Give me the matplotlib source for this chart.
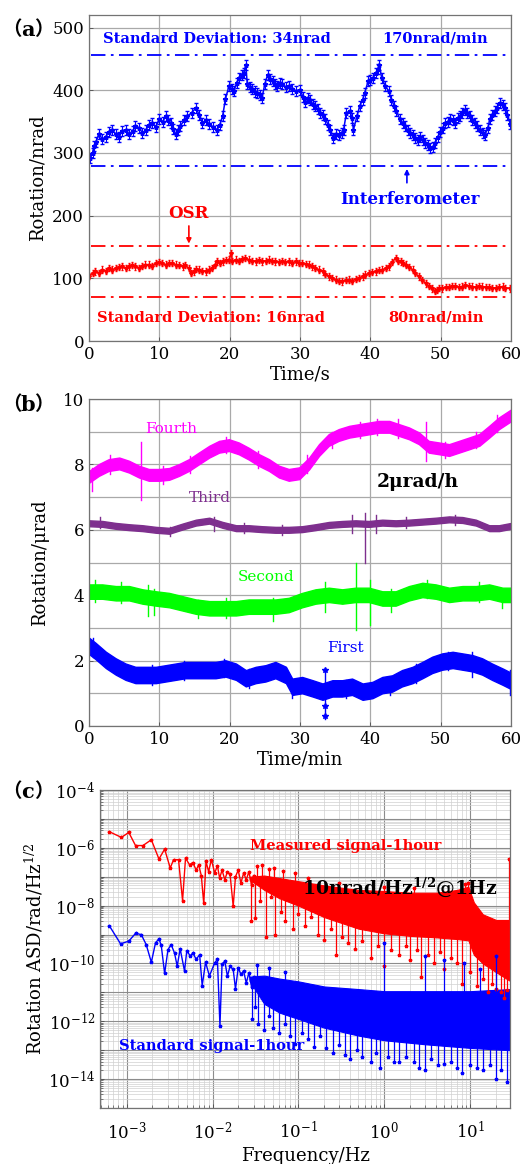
import numpy as np
import matplotlib
matplotlib.use("Agg")
import matplotlib.pyplot as plt
from matplotlib.ticker import FuncFormatter, FixedLocator, LogLocator, NullFormatter

plt.rcParams['font.family'] = ['DejaVu Serif', 'Noto Sans CJK SC']
plt.rcParams['mathtext.fontset'] = 'dejavuserif'

# ---------------- (a) interferometer vs OSR, 1 minute ----------------
ifm_t = [0.2, 0.5, 0.7, 1.0, 1.4, 1.9, 2.4, 2.8, 3.3, 3.8, 4.3, 4.7, 5.2, 5.7, 6.2, 6.6, 7.1, 7.6, 8.1, 8.5,
         9.0, 9.5, 10.0, 10.5, 10.9, 11.3, 11.6, 12.0, 12.3, 12.7, 13.0, 13.5, 14.0, 14.6, 15.2, 15.7, 16.1,
         16.6, 17.1, 17.6, 18.2, 18.6, 19.0, 19.4, 19.9, 20.3, 20.6, 21.0, 21.3, 21.7, 22.0, 22.3, 22.5, 22.9,
         23.2, 23.6, 23.9, 24.3, 24.6, 25.0, 25.4, 25.8, 26.1, 26.5, 26.8, 27.2, 27.5, 28.0, 28.4, 28.9, 29.4,
         30.0, 30.4, 30.7, 31.1, 31.4, 31.8, 32.1, 32.5, 32.8, 33.2, 33.6, 34.0, 34.3, 34.7, 35.1, 35.5, 35.9,
         36.2, 36.6, 37.1, 37.4, 37.6, 38.1, 38.5, 38.9, 39.2, 39.7, 40.0, 40.4, 40.8, 41.1, 41.3, 41.6, 42.1,
         42.6, 43.0, 43.4, 43.7, 44.2, 44.6, 44.9, 45.3, 45.6, 46.0, 46.4, 46.8, 47.1, 47.5, 47.8, 48.2, 48.5,
         48.9, 49.2, 49.6, 49.9, 50.3, 50.6, 51.0, 51.3, 51.7, 52.0, 52.4, 52.7, 53.1, 53.5, 53.8, 54.2, 54.5,
         54.9, 55.2, 55.6, 56.0, 56.3, 56.7, 57.0, 57.3, 57.7, 58.0, 58.4, 58.8, 59.1, 59.5, 59.9]
ifm_v = [292, 300, 311, 318, 330, 322, 326, 334, 337, 330, 326, 335, 337, 330, 335, 343, 340, 332, 337, 345,
         348, 342, 354, 350, 359, 352, 348, 338, 330, 336, 343, 352, 359, 364, 372, 360, 348,
         352, 346, 342, 337, 345, 359, 386, 407, 402, 399, 412, 420, 425, 428, 440, 410, 405,
         402, 398, 396, 392, 388, 410, 425, 418, 415, 410, 407, 412, 410, 405, 407, 402, 399,
         401, 390, 382, 388, 385, 378, 375, 370, 364, 360, 354, 345, 337, 324, 330, 329, 332,
         337, 364, 367, 355, 337, 359, 375, 385, 396, 415, 417, 420, 428, 434, 440, 420, 407,
         399, 385, 375, 367, 354, 348, 343, 336, 332, 328, 324, 320, 326, 320, 316, 312, 308,
         310, 316, 325, 334, 340, 348, 350, 354, 352, 348, 355, 359, 364, 369, 364, 359, 352,
         348, 343, 337, 332, 329, 340, 354, 360, 367, 372, 380, 376, 372, 360, 346]
ifm_err = 8
ifm_bounds = [456, 279]

osr_t = [0.0, 0.5, 0.9, 1.4, 1.9, 2.4, 2.8, 3.3, 3.8, 4.2, 4.7, 5.2, 5.7, 6.1, 6.6, 7.1, 7.6, 8.0, 8.5, 9.0,
         9.5, 9.9, 10.4, 10.9, 11.4, 11.8, 12.3, 12.8, 13.3, 13.7, 14.2, 14.5, 14.9, 15.2, 15.6, 16.1, 16.6,
         17.0, 17.5, 17.9, 18.2, 18.6, 19.0, 19.5, 19.9, 20.2, 20.4, 20.9, 21.3, 21.8, 22.2, 22.7, 23.2, 23.7,
         24.1, 24.6, 25.1, 25.6, 26.0, 26.5, 27.0, 27.5, 27.9, 28.4, 28.9, 29.4, 29.8, 30.3, 30.8, 31.3, 31.7,
         32.2, 32.7, 33.2, 33.6, 34.1, 34.6, 35.1, 35.5, 36.0, 36.5, 37.0, 37.4, 37.9, 38.4, 38.9, 39.3, 39.8,
         40.3, 40.8, 41.2, 41.7, 42.2, 42.7, 43.1, 43.6, 43.9, 44.3, 44.6, 45.0, 45.5, 46.0, 46.4, 46.9, 47.4,
         47.9, 48.3, 48.8, 49.2, 49.5, 49.8, 50.2, 50.7, 51.2, 51.6, 52.1, 52.6, 53.1, 53.5, 54.0, 54.5, 55.0,
         55.4, 55.9, 56.4, 56.9, 57.3, 57.8, 58.3, 58.8, 59.2, 59.8]
osr_v = [104, 108, 111, 109, 114, 112, 116, 114, 116, 118, 119, 116, 119, 121, 119, 117, 120, 122, 122, 120,
         124, 126, 124, 122, 124, 125, 122, 121, 119, 121, 116, 108, 111, 115, 114, 112, 111,
         114, 116, 122, 127, 125, 127, 129, 130, 140, 128, 130, 128, 131, 133, 130, 128, 127,
         129, 127, 128, 130, 128, 127, 126, 128, 126, 127, 125, 127, 125, 124, 123, 122, 119,
         116, 114, 111, 107, 103, 100, 98, 96, 95, 97, 98, 96, 99, 101, 103, 106, 108,
         110, 111, 113, 114, 116, 119, 126, 132, 128, 127, 124, 122, 118, 114, 108, 103, 97,
         92, 88, 84, 80, 82, 85, 84, 86, 86, 88, 88, 86, 87, 89, 88, 87, 86,
         88, 87, 86, 86, 85, 85, 86, 87, 85, 84]
osr_err = 5
osr_bounds = [151, 71]

# ---------------- (b) four 1-hour runs ----------------
fourth_t = [0, 1.4, 2.8, 4.3, 5.7, 7.1, 8.5, 10.0, 11.4, 12.8, 14.2, 15.6, 17.1, 18.5, 19.9, 21.3, 22.7, 24.2,
            25.6, 27.0, 28.4, 29.9, 31.3, 32.7, 34.1, 35.5, 37.0, 38.4, 39.8, 41.2, 42.7, 44.1, 45.5, 46.9,
            48.3, 49.8, 51.2, 52.6, 54.0, 55.5, 56.9, 58.3, 60]
fourth_v = [7.62, 7.83, 7.98, 8.03, 7.93, 7.78, 7.68, 7.68, 7.71, 7.83, 7.98, 8.18, 8.39, 8.54, 8.59, 8.49,
            8.33, 8.13, 7.98, 7.78, 7.68, 7.73, 8.03, 8.44, 8.75, 8.90, 9.00, 9.05, 9.10, 9.15, 9.15, 9.05,
            8.95, 8.80, 8.54, 8.49, 8.44, 8.54, 8.64, 8.75, 9.00, 9.26, 9.50]
fourth_half = 0.18
fourth_spikes = [(7.4, 6.9, 8.7), (0.4, 7.2, 7.9), (47.9, 8.1, 9.3), (44.0, 8.8, 9.4), (50.6, 8.2, 8.7),
                 (3.0, 7.7, 8.3), (10.5, 7.4, 7.95), (14.3, 7.75, 8.25), (19.5, 8.35, 8.85), (24.0, 7.9, 8.4),
                 (31.0, 7.75, 8.3), (34.5, 8.5, 9.0), (38.5, 8.8, 9.3), (41.0, 8.9, 9.4), (55.0, 8.5, 9.0),
                 (58.0, 9.0, 9.5)]

third_t = [0, 1.9, 3.8, 5.7, 7.6, 9.5, 11.4, 13.3, 15.2, 17.1, 19.0, 20.9, 22.7, 24.6, 26.5, 28.4, 30.3, 32.2,
           34.1, 36.0, 37.9, 39.8, 41.7, 43.6, 45.5, 47.4, 49.3, 51.2, 53.1, 55.0, 56.9, 58.3, 60]
third_v = [6.20, 6.18, 6.12, 6.08, 6.05, 6.00, 5.97, 6.10, 6.22, 6.28, 6.15, 6.05, 6.05, 6.02, 6.00, 6.00,
           6.02, 6.08, 6.15, 6.18, 6.20, 6.18, 6.22, 6.20, 6.22, 6.25, 6.28, 6.32, 6.30, 6.22, 6.05, 6.05,
           6.12]
third_half = 0.09
third_spikes = [(39.2, 4.98, 6.5), (37.4, 5.9, 6.45), (40.8, 5.9, 6.45), (17.8, 5.95, 6.38), (11.5, 5.8, 6.1),
                (1.5, 6.05, 6.4), (22.0, 5.9, 6.2), (27.5, 5.85, 6.15), (45.0, 6.05, 6.4), (52.0, 6.15, 6.45)]

second_t = [0, 1.9, 3.8, 5.7, 7.6, 9.5, 11.4, 13.3, 15.2, 17.1, 19.0, 20.9, 22.7, 24.6, 26.5, 28.4, 30.3, 32.2,
            34.1, 36.0, 37.9, 39.8, 41.7, 43.6, 45.5, 47.4, 49.3, 51.2, 53.1, 55.0, 56.9, 58.8, 60]
second_v = [4.11, 4.11, 4.06, 4.06, 3.96, 3.90, 3.85, 3.75, 3.65, 3.60, 3.60, 3.60, 3.65, 3.65, 3.65, 3.70,
            3.85, 3.96, 4.01, 3.96, 4.01, 4.01, 3.90, 3.90, 4.06, 4.16, 4.11, 4.01, 4.06, 4.06, 4.11, 4.01,
            4.01]
second_half = 0.22
second_spikes = [(37.9, 2.94, 5.0), (40.0, 3.09, 4.46), (33.6, 3.5, 4.41), (8.4, 3.35, 4.31),
                 (26.1, 3.2, 3.9), (9.3, 3.4, 4.2), (43.0, 3.5, 4.2), (0.8, 3.8, 4.45), (4.5, 3.75, 4.4),
                 (15.5, 3.3, 3.85), (19.5, 3.3, 3.9), (48.0, 3.9, 4.45), (55.5, 3.8, 4.4), (58.7, 3.6, 4.2)]

first_t = [0, 0.9, 2.4, 3.8, 5.2, 6.6, 8.1, 9.5, 10.9, 12.3, 13.7, 15.2, 16.6, 18.0, 19.4, 20.9, 22.3, 23.7,
           25.1, 26.5, 28.0, 28.9, 30.3, 31.8, 33.2, 34.6, 36.0, 37.4, 38.9, 40.3, 41.7, 43.1, 44.5, 46.0,
           47.4, 48.8, 50.2, 51.7, 53.1, 54.5, 55.9, 57.3, 58.8, 60]
first_v = [2.45, 2.30, 2.02, 1.82, 1.66, 1.56, 1.56, 1.56, 1.61, 1.66, 1.71, 1.71, 1.71, 1.71, 1.76, 1.66,
           1.46, 1.56, 1.61, 1.71, 1.56, 1.20, 1.25, 1.15, 1.05, 1.15, 1.15, 1.20, 1.05, 1.10, 1.25, 1.30,
           1.46, 1.56, 1.71, 1.87, 1.97, 2.02, 1.97, 1.92, 1.82, 1.66, 1.51, 1.38]
first_half = 0.25
first_spikes = [(33.5, 0.20, 1.75), (28.9, 0.85, 1.4), (54.5, 1.5, 2.25), (59.9, 0.95, 1.7),
                (19.2, 1.5, 2.05), (42.8, 0.95, 1.5), (0.5, 2.1, 2.7), (9.0, 1.25, 1.85), (13.5, 1.4, 2.0),
                (22.8, 1.15, 1.75), (36.5, 0.85, 1.4), (46.5, 1.3, 1.9), (51.0, 1.7, 2.25)]

# ---------------- (c) amplitude spectral density ----------------
meas_f = [6.3e-4, 8.7e-4, 1.06e-3, 1.27e-3, 1.55e-3, 1.94e-3, 2.38e-3, 2.77e-3, 3.22e-3, 3.52e-3, 4.02e-3,
          4.48e-3, 4.85e-3, 5.4e-3, 5.9e-3, 6.45e-3, 6.9e-3, 7.4e-3, 7.9e-3, 8.4e-3, 9.0e-3, 0.0097,
          0.0106, 0.0114, 0.0121, 0.0129, 0.0139, 0.0149, 0.016, 0.0174, 0.0185, 0.0199, 0.0214, 0.023,
          0.0247, 0.0265, 0.0285, 0.03]
meas_a = [3.6e-6, 2.3e-6, 3.4e-6, 1.2e-6, 1.2e-6, 1.9e-6, 4.1e-7, 9.0e-7, 2.0e-7, 3.9e-7, 3.9e-7,
          1.5e-8, 4.4e-7, 2.6e-7, 3.1e-7, 1.7e-7, 2.6e-7, 1.1e-7, 1.2e-8, 3.4e-7, 1.5e-7, 3.9e-7,
          1.35e-7, 2.4e-7, 8.9e-8, 1.7e-7, 7.9e-8, 1.5e-7, 1.2e-7, 9.5e-9, 1.0e-7, 1.7e-7, 6.0e-8, 1.35e-7,
          7.9e-8, 1.5e-7, 5.0e-8, 1.1e-7]
meas_env_f = [0.027, 0.04, 0.06, 0.1, 0.2, 0.5, 1, 2, 4, 7, 9.5, 11, 14, 20, 29]
meas_env_hi = [1.0e-7, 1.1e-7, 9.0e-8, 7.0e-8, 5.0e-8, 3.5e-8, 3.2e-8, 2.8e-8, 2.8e-8, 3.5e-8,
               4.5e-8, 1.3e-8, 5.0e-9, 3.2e-9, 3.2e-9]
meas_env_lo = [8.0e-8, 3.5e-8, 1.8e-8, 1.0e-8, 4.0e-9, 1.6e-9, 1.1e-9, 9.0e-10, 8.0e-10, 7.0e-10,
               6.3e-10, 2.0e-10, 1.0e-10, 5.0e-11, 2.5e-11]
meas_dips = [(0.028, 3.0e-9), (0.031, 3.7e-9), (0.036, 1.5e-8), (0.042, 8.0e-10), (0.048, 2.0e-8),
             (0.053, 1.0e-9), (0.062, 6.0e-9), (0.07, 3.0e-9), (0.086, 1.5e-9), (0.1, 5.0e-9),
             (0.12, 2.0e-9), (0.14, 4.0e-9), (0.17, 1.0e-9), (0.2, 6.3e-10), (0.24, 1.5e-9),
             (0.274, 2.0e-10), (0.32, 8.0e-10), (0.38, 5.0e-10), (0.45, 3.2e-10), (0.55, 6.0e-10),
             (0.7, 1.6e-10), (0.85, 4.0e-10), (1.0, 8.0e-11), (1.2, 3.0e-10), (1.5, 2.0e-10),
             (1.8, 4.0e-10), (2.0, 1.3e-10), (2.4, 3.0e-10), (2.7, 3.5e-11), (3.2, 2.0e-10),
             (3.8, 1.0e-10), (4.5, 2.5e-10), (5.0, 6.3e-11), (6.0, 1.5e-10), (7.0, 1.0e-10),
             (8.0, 2.0e-11), (10, 5.0e-11), (12, 1.6e-11), (14, 3.0e-11), (16, 1.0e-11), (18, 2.0e-11),
             (20, 1.3e-11), (23, 1.0e-11), (25, 6.3e-12), (27, 1.2e-11)]
meas_peaks = [(0.033, 2.4e-7), (0.038, 2.5e-7), (0.045, 1.8e-7), (0.052, 2.0e-7), (0.066, 1.6e-7),
              (0.09, 1.3e-7), (0.13, 9.0e-8), (0.3, 6.0e-8), (1.0, 4.5e-8), (2.2, 4.0e-8), (8.7, 5.5e-8),
              (9.3, 6.0e-8), (28.5, 4.0e-7)]

std_f = [6.3e-4, 8.5e-4, 1.06e-3, 1.27e-3, 1.48e-3, 1.69e-3, 1.94e-3, 2.17e-3, 2.38e-3, 2.53e-3, 2.77e-3,
         3.03e-3, 3.3e-3, 3.61e-3, 3.88e-3, 4.2e-3, 4.72e-3, 5.02e-3, 5.5e-3, 5.9e-3, 6.45e-3, 7.08e-3,
         7.58e-3, 8.3e-3, 9.2e-3, 0.0106, 0.0114, 0.0122, 0.0129, 0.0139, 0.0149, 0.016, 0.0174, 0.0185,
         0.0199, 0.0214, 0.023, 0.0247, 0.0265, 0.0285, 0.03]
std_a = [2.0e-9, 4.8e-10, 5.9e-10, 1.1e-9, 1.0e-9, 4.5e-10, 1.1e-10, 5.2e-10, 7.1e-10, 4.2e-10, 4.5e-11,
         3.0e-10, 4.5e-10, 2.3e-10, 8.1e-11, 3.2e-10, 5.5e-11, 2.8e-10, 1.8e-10, 2.3e-10, 1.4e-10,
         2.0e-10, 1.7e-11, 1.1e-10, 3.7e-11, 1.05e-10, 1.4e-10, 6.8e-13, 9.3e-11, 1.2e-10, 3.6e-11,
         8.1e-11, 6.2e-11, 1.3e-11, 7.1e-11, 4.2e-11, 5.5e-11, 2.1e-11, 4.8e-11, 1.5e-11, 3.5e-11]
std_env_f = [0.027, 0.04, 0.06, 0.1, 0.2, 0.5, 1, 3, 10, 29]
std_env_hi = [3.5e-11, 3.8e-11, 3.0e-11, 2.4e-11, 1.6e-11, 1.3e-11, 1.1e-11, 1.1e-11, 1.1e-11, 1.3e-11]
std_env_lo = [2.5e-11, 4.0e-12, 2.0e-12, 1.2e-12, 6.0e-13, 3.2e-13, 2.2e-13, 1.6e-13, 1.2e-13, 1.0e-13]
std_dips = [(0.029, 1.2e-12), (0.031, 3.0e-12), (0.034, 8.0e-13), (0.04, 5.0e-13), (0.046, 1.5e-12),
            (0.05, 6.0e-13), (0.06, 4.0e-13), (0.07, 8.0e-13), (0.08, 3.0e-13), (0.09, 1.6e-13),
            (0.11, 4.0e-13), (0.13, 2.5e-13), (0.15, 1.3e-13), (0.18, 3.0e-13), (0.21, 1.2e-13),
            (0.25, 8.0e-14), (0.3, 1.5e-13), (0.35, 7.0e-14), (0.4, 5.0e-14), (0.48, 1.0e-13),
            (0.55, 6.0e-14), (0.7, 4.0e-14), (0.8, 8.0e-14), (0.9, 2.5e-14), (1.1, 6.0e-14),
            (1.3, 4.0e-14), (1.5, 4.0e-14), (1.8, 6.0e-14), (2.2, 4.0e-14), (2.5, 2.5e-14),
            (3.0, 2.0e-14), (3.5, 5.0e-14), (4.2, 3.0e-14), (5.0, 3.2e-14), (6.0, 4.0e-14),
            (7.0, 2.5e-14), (8.0, 1.6e-14), (10, 3.0e-14), (12, 2.5e-14), (14, 2.0e-14), (17, 3.0e-14),
            (20, 1.0e-14), (23, 2.0e-14), (27, 8.0e-15)]
std_peaks = [(0.033, 9.0e-11), (0.045, 7.0e-11), (0.07, 5.0e-11), (1.0, 5.2e-10), (3.0, 1.8e-10),
             (5.0, 1.3e-10), (8.5, 1.0e-10), (13, 6.3e-11), (20, 1.8e-10)]

BLUE = '#0000ff'
RED = '#ff0000'
MAGENTA = '#ff00ff'
PURPLE = '#7e2f8e'
GREEN = '#00ff00'
GRID = '#a9a9a9'

fig = plt.figure(figsize=(5.26, 11.64), dpi=100)
ax_a = fig.add_axes([0.1692, 0.7070, 0.8023, 0.2801])
ax_b = fig.add_axes([0.1692, 0.3763, 0.8023, 0.2809])
ax_c = fig.add_axes([0.1901, 0.0481, 0.7795, 0.2732])

for ax in (ax_a, ax_b, ax_c):
    ax.tick_params(direction='in', labelsize=12, length=3, width=0.6, color='0.3')
    for sp in ax.spines.values():
        sp.set_color('0.45')
        sp.set_linewidth(0.9)
    ax.set_axisbelow(True)

bold = dict(fontweight='bold', family='DejaVu Serif')

# ---- panel (a)
ax_a.errorbar(ifm_t, ifm_v, yerr=ifm_err, color=BLUE, lw=1.1, marker='*', ms=3.5,
              elinewidth=0.8, capsize=1.2)
ax_a.errorbar(osr_t, osr_v, yerr=osr_err, color=RED, lw=1.1, marker='*', ms=3,
              elinewidth=0.8, capsize=1.0)
for y in ifm_bounds:
    ax_a.plot([0.3, 59.5], [y, y], color=BLUE, lw=1.3, dashes=(8, 3, 1.5, 3))
for y in osr_bounds:
    ax_a.plot([0.3, 59.5], [y, y], color=RED, lw=1.3, dashes=(8, 3, 1.5, 3))
ax_a.set_xlim(0, 60)
ax_a.set_ylim(0, 520)
ax_a.set_xticks(range(0, 61, 10))
ax_a.set_yticks(range(0, 501, 100))
ax_a.grid(True, color=GRID, lw=0.9)
ax_a.set_xlabel('Time/s', fontsize=13, labelpad=2)
ax_a.set_ylabel('Rotation/nrad', fontsize=13, labelpad=4)

ax_a.text(2.0, 482, 'Standard Deviation: 34nrad', color=BLUE, fontsize=10.5, va='center', **bold)
ax_a.text(49.2, 482, '170nrad/min', color=BLUE, fontsize=10.5, va='center', ha='center', **bold)
ax_a.text(45.6, 226, 'Interferometer', color=BLUE, fontsize=12, va='center', ha='center', **bold)
ax_a.annotate('', xy=(45.2, ifm_bounds[1]), xytext=(45.2, 248),
              arrowprops=dict(arrowstyle='-|>', color=BLUE, lw=1.2, mutation_scale=7))
ax_a.text(14.1, 204, 'OSR', color=RED, fontsize=12, va='center', ha='center', **bold)
ax_a.annotate('', xy=(14.2, osr_bounds[0]), xytext=(14.2, 188),
              arrowprops=dict(arrowstyle='-|>', color=RED, lw=1.2, mutation_scale=7))
ax_a.text(1.2, 37, 'Standard Deviation: 16nrad', color=RED, fontsize=10.5, va='center', **bold)
ax_a.text(49.3, 37, '80nrad/min', color=RED, fontsize=10.5, va='center', ha='center', **bold)

# ---- panel (b)
runs = [(fourth_t, fourth_v, fourth_half, fourth_spikes, MAGENTA),
        (third_t, third_v, third_half, third_spikes, PURPLE),
        (second_t, second_v, second_half, second_spikes, GREEN),
        (first_t, first_v, first_half, first_spikes, BLUE)]
for t, v, half, spikes, c in runs:
    v = np.array(v)
    ax_b.fill_between(t, v - half, v + half, color=c, lw=1.0, edgecolor=c)
    for st, lo, hi in spikes:
        ax_b.plot([st, st], [lo, hi], color=c, lw=1.0)
ax_b.plot([first_spikes[0][0]] * 3, [0.3, 0.6, 1.7], color=BLUE, marker='*', ms=4, lw=0)
ax_b.set_xlim(0, 60)
ax_b.set_ylim(0, 10)
ax_b.set_xticks(range(0, 61, 10))
ax_b.set_yticks(range(0, 11, 2))
ax_b.set_yticks(range(1, 10, 2), minor=True)
ax_b.tick_params(which='minor', length=0)
ax_b.grid(True, which='both', color=GRID, lw=0.9)
ax_b.set_xlabel('Time/min', fontsize=13, labelpad=2)
ax_b.set_ylabel('Rotation/μrad', fontsize=13, labelpad=10)

ax_b.text(11.7, 9.08, 'Fourth', color=MAGENTA, fontsize=11, ha='center', va='center')
ax_b.text(17.2, 6.96, 'Third', color=PURPLE, fontsize=11, ha='center', va='center')
ax_b.text(25.2, 4.57, 'Second', color=GREEN, fontsize=11, ha='center', va='center')
ax_b.text(36.4, 2.38, 'First', color=BLUE, fontsize=11, ha='center', va='center')
ax_b.text(46.8, 7.47, '2μrad/h', color='black', fontsize=13.5, ha='center', va='center', **bold)


# ---- panel (c)
def env_at(f, env_f, env):
    return 10 ** np.interp(np.log10(f), np.log10(env_f), np.log10(env))


ax_c.set_xscale('log')
ax_c.set_yscale('log')
for line_f, line_a, env_f, env_hi, env_lo, dips, peaks, c in [
        (meas_f, meas_a, meas_env_f, meas_env_hi, meas_env_lo, meas_dips, meas_peaks, RED),
        (std_f, std_a, std_env_f, std_env_hi, std_env_lo, std_dips, std_peaks, BLUE)]:
    ax_c.plot(line_f, line_a, color=c, lw=1, marker='*', ms=2.5)
    ax_c.fill_between(env_f, env_lo, env_hi, color=c, lw=0.8, edgecolor=c)
    for f, lo in dips:
        ax_c.plot([f, f], [lo, env_at(f, env_f, env_lo)], color=c, lw=0.9,
                  marker='*', ms=2.5, markevery=[0])
    for f, hi in peaks:
        ax_c.plot([f, f], [env_at(f, env_f, env_hi), hi], color=c, lw=0.9,
                  marker='*', ms=2.5, markevery=[1])

ax_c.set_xlim(4.9e-4, 29)
ax_c.set_ylim(1e-15, 1e-4)
ax_c.xaxis.set_major_locator(FixedLocator([1e-3, 1e-2, 1e-1, 1e0, 1e1]))
ax_c.xaxis.set_minor_locator(LogLocator(base=10, subs=np.arange(2, 10), numticks=20))
ax_c.xaxis.set_minor_formatter(NullFormatter())
ax_c.yaxis.set_major_locator(FixedLocator([10.0 ** k for k in range(-15, -3)]))
ax_c.yaxis.set_minor_locator(LogLocator(base=10, subs=np.arange(2, 10), numticks=30))
ax_c.yaxis.set_minor_formatter(NullFormatter())
ax_c.yaxis.set_major_formatter(FuncFormatter(
    lambda y, pos: r'$10^{%d}$' % round(np.log10(y)) if round(np.log10(y)) % 2 == 0 else ''))
ax_c.xaxis.set_major_formatter(FuncFormatter(lambda x, pos: r'$10^{%d}$' % round(np.log10(x))))
ax_c.tick_params(axis='x', pad=9)
ax_c.tick_params(which='minor', direction='in', length=2, width=0.5, color='0.3')
ax_c.grid(True, which='major', color='0.55', lw=0.8)
ax_c.grid(True, which='minor', color='0.82', lw=0.5)
ax_c.set_xlabel('Frequency/Hz', fontsize=13, labelpad=3)
ax_c.set_ylabel(r'Rotation ASD/rad/Hz$^{1/2}$', fontsize=13, labelpad=2)

ax_c.text(0.35, 1.2e-6, 'Measured signal-1hour', color=RED, fontsize=10.5, ha='center', va='center', **bold)
ax_c.text(1.5, 4.2e-8, r'10nrad/Hz$^{\mathbf{1/2}}$@1Hz', color='black', fontsize=13.5,
          ha='center', va='center', **bold)
ax_c.text(0.0097, 1.4e-13, 'Standard signal-1hour', color=BLUE, fontsize=10.5, ha='center', va='center', **bold)

# panel tags with full-width brackets
for y_px, letter in [(30, 'a'), (405, 'b'), (792, 'c')]:
    y = 1 - y_px / 1164
    fig.text(22 / 526, y, '（', family='Noto Sans CJK SC', fontsize=14, fontweight='bold',
             ha='right', va='center')
    fig.text(28 / 526, y, letter, fontsize=15, fontweight='bold', ha='center', va='center')
    fig.text(34 / 526, y, '）', family='Noto Sans CJK SC', fontsize=14, fontweight='bold',
             ha='left', va='center')

fig.savefig('out.png', dpi=100)
